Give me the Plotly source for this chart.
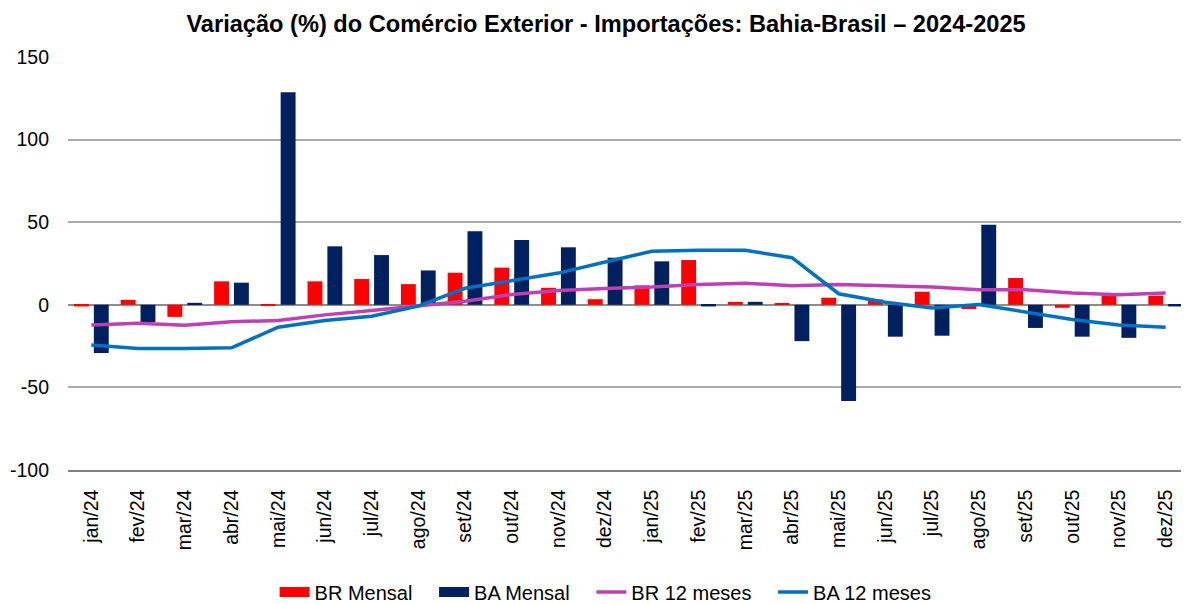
import plotly.graph_objects as go

categories = ["jan/24", "fev/24", "mar/24", "abr/24", "mai/24", "jun/24", "jul/24", "ago/24",
              "set/24", "out/24", "nov/24", "dez/24", "jan/25", "fev/25", "mar/25", "abr/25",
              "mai/25", "jun/25", "jul/25", "ago/25", "set/25", "out/25", "nov/25", "dez/25"]

br_mensal = [-1.0, 3.0, -7.3, 14.2, -0.5, 14.2, 15.6, 12.5, 19.4, 22.5, 10.3, 3.4,
             11.7, 27.1, 1.8, 1.0, 4.3, 3.2, 7.9, -2.6, 16.2, -1.8, 5.5, 5.5]
ba_mensal = [-29.2, -10.4, 1.2, 13.4, 128.6, 35.4, 30.1, 20.8, 44.5, 39.3, 34.8, 28.5,
             26.3, -1.0, 1.8, -22.0, -58.3, -19.3, -18.7, 48.4, -14.0, -19.3, -20.0, -1.0]
br_12m = [-12.2, -11.2, -12.4, -10.3, -9.5, -6.1, -3.5, -0.4, 2.2, 6.2, 8.7, 9.9,
          10.7, 12.3, 13.1, 11.5, 12.3, 11.5, 10.7, 9.1, 9.1, 7.1, 6.1, 7.1]
ba_12m = [-24.3, -26.5, -26.5, -26.0, -13.6, -9.5, -6.9, -0.8, 10.0, 14.8, 19.2, 25.9,
          32.4, 33.0, 33.0, 28.5, 6.7, 1.6, -2.0, 0.2, -4.5, -8.9, -12.2, -13.6]

y_tickvals = [-100, -50, 0, 50, 100, 150]
y_ticktext = ["-100", "-50", "0", "50", "100", "150"]

legend_names = ["BR Mensal", "BA Mensal", "BR 12 meses", "BA 12 meses"]

title_text = "Variação (%) do Comércio Exterior - Importações: Bahia-Brasil – 2024-2025"
font_family = "Liberation Sans, Arial, sans-serif"

RED = "#FF0000"
NAVY = "#002060"
MAGENTA = "#BF3FB5"
BLUE = "#0070C0"

PAD = "\u00a0\u00a0\u00a0"  # spacing after legend text

fig = go.Figure()
fig.add_trace(go.Bar(x=categories, y=br_mensal, name=legend_names[0], showlegend=False,
                     marker=dict(color=RED, line=dict(width=0))))
fig.add_trace(go.Bar(x=categories, y=ba_mensal, name=legend_names[1], showlegend=False,
                     marker=dict(color=NAVY, line=dict(width=0))))
fig.add_trace(go.Scatter(x=categories, y=br_12m, name=legend_names[2], mode="lines",
                         showlegend=False, line=dict(color=MAGENTA, width=3.5)))
fig.add_trace(go.Scatter(x=categories, y=ba_12m, name=legend_names[3], mode="lines",
                         showlegend=False, line=dict(color=BLUE, width=3.5)))

# legend entries (rectangular swatches like the original)
fig.add_trace(go.Scatter(x=[None], y=[None], name=legend_names[0] + PAD, mode="lines",
                         line=dict(color=RED, width=12)))
fig.add_trace(go.Scatter(x=[None], y=[None], name=legend_names[1] + PAD, mode="lines",
                         line=dict(color=NAVY, width=12)))
fig.add_trace(go.Scatter(x=[None], y=[None], name=legend_names[2] + PAD, mode="lines",
                         line=dict(color=MAGENTA, width=3.5)))
fig.add_trace(go.Scatter(x=[None], y=[None], name=legend_names[3], mode="lines",
                         line=dict(color=BLUE, width=3.5)))

# page body has an 8px margin: figure is offset by 8px right/down
fig.update_layout(
    width=1181, height=596,
    margin=dict(l=60, r=0, t=49, b=134),
    paper_bgcolor="white", plot_bgcolor="white",
    barmode="group", bargap=0.15, bargroupgap=0.25,
    font=dict(family=font_family, size=19, color="#000000"),
    title=dict(text="<b>" + title_text + "</b>", x=0.5064, xanchor="center",
               xref="container", y=0.973, yanchor="middle", yref="container",
               font=dict(family=font_family, size=23.6, color="#000000")),
    showlegend=True,
    legend=dict(orientation="h", x=0.506, xanchor="center", xref="container",
                y=0.0201, yanchor="middle", yref="container",
                font=dict(size=20), traceorder="normal"),
)
fig.update_xaxes(type="category", tickangle=-90, showline=True, linecolor="#808080",
                 linewidth=1.5, showgrid=False, ticks="", tickfont=dict(size=19.5),
                 ticklabelstandoff=10, automargin=False)
fig.update_yaxes(range=[-100, 150], tickvals=y_tickvals, ticktext=y_ticktext,
                 showgrid=True, gridcolor="#ABABAB",
                 gridwidth=1.5, zeroline=True, zerolinecolor="#8C8C8C", zerolinewidth=1.5,
                 showline=False, ticks="", tickfont=dict(size=19.5), ticklabelstandoff=18,
                 automargin=False)

fig.write_html("out.html")
